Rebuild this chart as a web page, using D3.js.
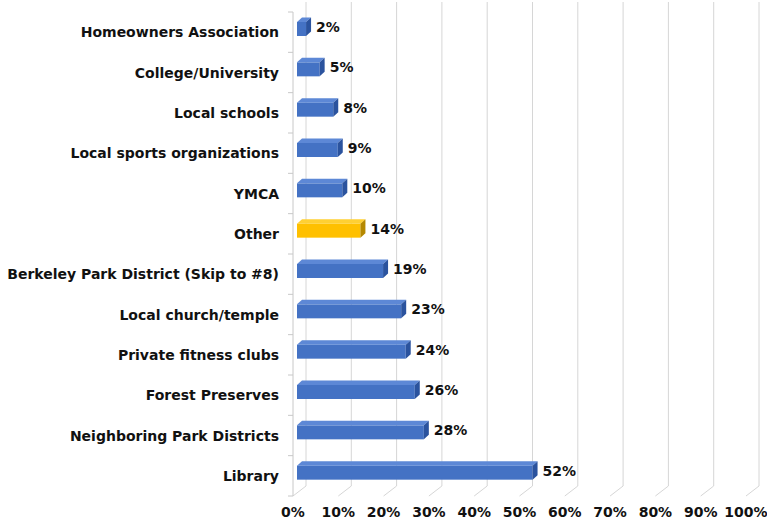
<!DOCTYPE html>
<html lang="en">
    <head>
        <meta charset="utf-8">
        <title></title>
        <script src='https://cdn.jsdelivr.net/npm/d3@7/dist/d3.min.js'></script>
        <style>
            body { margin: 0; background: #fff; }
            text { font-family: 'DejaVu Sans', sans-serif; font-weight: bold; font-size: 14px; fill: #111; }
        </style>
    </head>
    <body>
        <svg width='767' height='523'></svg>
        <script>
            var categories = ['Homeowners Association', 'College/University', 'Local schools',
                'Local sports organizations', 'YMCA', 'Other', 'Berkeley Park District (Skip to #8)',
                'Local church/temple', 'Private fitness clubs', 'Forest Preserves',
                'Neighboring Park Districts', 'Library'];
            var values = [2, 5, 8, 9, 10, 14, 19, 23, 24, 26, 28, 52];
            var highlighted = ['Other'];
            var ticks = [0, 10, 20, 30, 40, 50, 60, 70, 80, 90, 100];

            var data = categories.map((c, i) => ({cat: c, value: values[i]}));

            var svg = d3.select('svg');

            // floor front edge, the back wall is shifted by depth
            var x = d3.scaleLinear().domain([0, 100]).range([293, 746]);
            var y = d3.scaleBand().domain(categories).range([12, 496]);
            var depth = {dx: 13, dy: -10};
            var barDepth = {dx: 5, dy: -4.5};
            var barShift = 4, barTop = 10, barH = 14;
            var floorY = y.range()[1];

            // back wall + floor gridlines
            svg.selectAll('path.grid')
                .data(ticks)
                .enter()
                .append('path')
                .attr('class', 'grid')
                .attr('d', d => 'M' + (x(d) + depth.dx) + ',' + (y.range()[0] + depth.dy) +
                    'V' + (floorY + depth.dy) + 'L' + x(d) + ',' + floorY)
                .style('fill', 'none')
                .style('stroke', '#d6d6d6');

            // category axis
            svg.append('line')
                .attr('x1', x(0)).attr('x2', x(0))
                .attr('y1', y.range()[0]).attr('y2', floorY)
                .style('stroke', '#c8c8c8');

            svg.selectAll('line.tick')
                .data(d3.range(categories.length + 1))
                .enter()
                .append('line')
                .attr('class', 'tick')
                .attr('x1', x(0) - 5).attr('x2', x(0))
                .attr('y1', i => y.range()[0] + i * y.step())
                .attr('y2', i => y.range()[0] + i * y.step())
                .style('stroke', '#c8c8c8');

            svg.selectAll('text.cat')
                .data(categories)
                .enter()
                .append('text')
                .attr('class', 'cat')
                .attr('x', 279)
                .attr('y', d => y(d) + y.bandwidth() / 2)
                .attr('text-anchor', 'end')
                .attr('dominant-baseline', 'central')
                .text(d => d);

            svg.selectAll('text.xlab')
                .data(ticks)
                .enter()
                .append('text')
                .attr('class', 'xlab')
                .attr('x', d => x(d))
                .attr('y', 512)
                .attr('text-anchor', 'middle')
                .attr('dominant-baseline', 'central')
                .text(d => d + '%');

            // 3d bars
            var colors = {
                normal: {front: '#4472c4', top: '#5d88d6', side: '#2b539e'},
                hi: {front: '#ffc000', top: '#ffd033', side: '#b58800'}
            };

            var bars = svg.selectAll('g.bar')
                .data(data)
                .enter()
                .append('g')
                .attr('class', 'bar');

            function geom(d) {
                var x0 = x(0) + barShift;
                var x1 = x(d.value) + barShift;
                var t = y(d.cat) + barTop;
                return {x0: x0, x1: x1, t: t, b: t + barH};
            }
            function col(d) { return highlighted.includes(d.cat) ? colors.hi : colors.normal; }

            bars.append('rect')
                .attr('x', d => geom(d).x0)
                .attr('y', d => geom(d).t)
                .attr('width', d => geom(d).x1 - geom(d).x0)
                .attr('height', barH)
                .style('fill', d => col(d).front);

            bars.append('path')
                .attr('d', d => {
                    var g = geom(d);
                    return 'M' + g.x0 + ',' + g.t + 'L' + (g.x0 + barDepth.dx) + ',' + (g.t + barDepth.dy) +
                        'L' + (g.x1 + barDepth.dx) + ',' + (g.t + barDepth.dy) + 'L' + g.x1 + ',' + g.t + 'Z';
                })
                .style('fill', d => col(d).top);

            bars.append('path')
                .attr('d', d => {
                    var g = geom(d);
                    return 'M' + g.x1 + ',' + g.t + 'L' + (g.x1 + barDepth.dx) + ',' + (g.t + barDepth.dy) +
                        'L' + (g.x1 + barDepth.dx) + ',' + (g.b + barDepth.dy) + 'L' + g.x1 + ',' + g.b + 'Z';
                })
                .style('fill', d => col(d).side);

            bars.append('text')
                .attr('x', d => geom(d).x1 + 10)
                .attr('y', d => geom(d).t + barH / 2 - 2)
                .attr('dominant-baseline', 'central')
                .text(d => d.value + '%');
        </script>
    </body>
</html>
